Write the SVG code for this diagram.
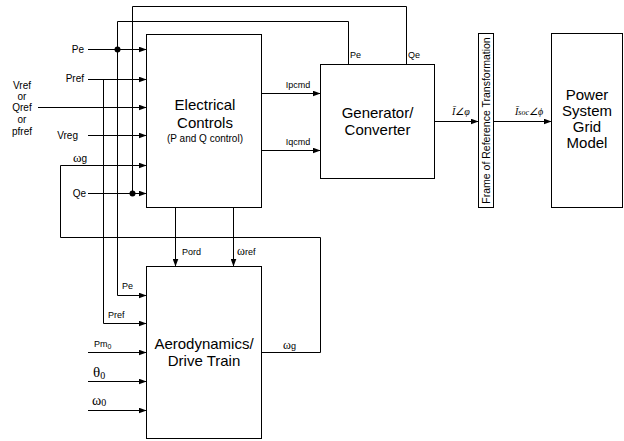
<svg xmlns="http://www.w3.org/2000/svg" width="624" height="441" viewBox="0 0 624 441">
<style>
.box{fill:#fff;stroke:#000;stroke-width:1}
.ln{fill:none;stroke:#000;stroke-width:1}
.big{font-family:"Liberation Sans",Arial,sans-serif;font-size:15px;text-anchor:middle;fill:#000}
.mid{font-family:"Liberation Sans",Arial,sans-serif;font-size:10px;text-anchor:middle;fill:#000}
.rot{font-family:"Liberation Sans",Arial,sans-serif;font-size:10.5px;text-anchor:middle;fill:#000}
.lbl{font-family:"Liberation Sans",Arial,sans-serif;font-size:10px;fill:#000}
.sm{font-family:"Liberation Sans",Arial,sans-serif;font-size:9px;fill:#000}
.ser{font-family:"Liberation Serif","Times New Roman",serif;fill:#000}
.it{font-family:"Liberation Serif","Times New Roman",serif;font-style:italic;font-size:10px;fill:#000}
</style>
<defs>
<marker id="ah" markerWidth="8" markerHeight="6" refX="8" refY="3" orient="auto" markerUnits="userSpaceOnUse">
<path d="M0,0 L8,3 L0,6 z" fill="#000"/>
</marker>
</defs>
<rect width="624" height="441" fill="#fff"/>

<g id="connectors">
<path class="ln" d="M88,49.5 H146.5" marker-end="url(#ah)"/>
<path class="ln" d="M88,79.5 H146.5" marker-end="url(#ah)"/>
<path class="ln" d="M38,107.5 H146.5" marker-end="url(#ah)"/>
<path class="ln" d="M88,135.5 H146.5" marker-end="url(#ah)"/>
<path class="ln" d="M261.5,352.5 H320.5 V237.5 H60.5 V165.5 H146.5" marker-end="url(#ah)"/>
<path class="ln" d="M88,193.5 H146.5" marker-end="url(#ah)"/>
<path class="ln" d="M406.5,64.5 V6.5 H132.5 V193.5"/>
<path class="ln" d="M348.5,64.5 V21.5 H117.5 V295.5 H146.5" marker-end="url(#ah)"/>
<path class="ln" d="M103.5,79.5 V323.5 H146.5" marker-end="url(#ah)"/>
<path class="ln" d="M88,352.5 H146.5" marker-end="url(#ah)"/>
<path class="ln" d="M88,381.5 H146.5" marker-end="url(#ah)"/>
<path class="ln" d="M88,410.5 H146.5" marker-end="url(#ah)"/>
<path class="ln" d="M261.5,93.5 H320.5" marker-end="url(#ah)"/>
<path class="ln" d="M261.5,150.5 H320.5" marker-end="url(#ah)"/>
<path class="ln" d="M434.5,121.5 H478.5" marker-end="url(#ah)"/>
<path class="ln" d="M493.5,121.5 H551.5" marker-end="url(#ah)"/>
<path class="ln" d="M175.5,207.5 V266.5" marker-end="url(#ah)"/>
<path class="ln" d="M233.5,207.5 V266.5" marker-end="url(#ah)"/>
<circle cx="117.5" cy="49.5" r="3" fill="#000"/>
<circle cx="132.5" cy="193.5" r="3" fill="#000"/>

<text class="lbl" x="84" y="53" text-anchor="end">Pe</text>
<text class="lbl" x="84" y="82" text-anchor="end">Pref</text>
<text class="lbl" x="22" y="89" text-anchor="middle">Vref</text>
<text class="lbl" x="22" y="100" text-anchor="middle">or</text>
<text class="lbl" x="22" y="111" text-anchor="middle">Qref</text>
<text class="lbl" x="22" y="123" text-anchor="middle">or</text>
<text class="lbl" x="22" y="135" text-anchor="middle">pfref</text>
<text class="lbl" x="78" y="139" text-anchor="end">Vreg</text>
<text class="lbl" x="73" y="162"><tspan class="ser" style="font-size:13px">ω</tspan>g</text>
<text class="lbl" x="86" y="197" text-anchor="end">Qe</text>
<text class="sm" x="298" y="88" text-anchor="middle">Ipcmd</text>
<text class="sm" x="298" y="145" text-anchor="middle">Iqcmd</text>
<text class="sm" x="350" y="58">Pe</text>
<text class="sm" x="408" y="58">Qe</text>
<text class="it" x="452" y="115">Ī∠φ</text>
<text class="it" x="515" y="115">Ī<tspan style="font-size:8px">soc</tspan>∠ϕ</text>
<text class="sm" x="182" y="255">Pord</text>
<text class="sm" x="237" y="255"><tspan class="ser" style="font-size:12px">ω</tspan>ref</text>
<text class="sm" x="122" y="289">Pe</text>
<text class="sm" x="108" y="318">Pref</text>
<text class="sm" x="94" y="347">Pm<tspan style="font-size:7px" dy="2">0</tspan></text>
<text class="ser" style="font-size:15px" x="93" y="377">θ<tspan style="font-size:10px" dy="2">0</tspan></text>
<text class="ser" style="font-size:14px" x="92" y="405">ω<tspan style="font-size:10px" dy="1">0</tspan></text>
<text class="sm" x="283" y="349"><tspan class="ser" style="font-size:12px">ω</tspan>g</text>
</g>

<g id="electrical-controls">
<rect class="box" x="146.5" y="34.5" width="115" height="173"/>
<text class="big" x="205" y="110">Electrical</text>
<text class="big" x="205" y="128">Controls</text>
<text class="mid" x="205" y="142">(P and Q control)</text>
</g>

<g id="generator-converter">
<rect class="box" x="320.5" y="64.5" width="114" height="114"/>
<text class="big" x="377.5" y="118">Generator/</text>
<text class="big" x="377.5" y="135">Converter</text>
</g>

<g id="frame-of-reference">
<rect class="box" x="478.5" y="33.5" width="15" height="174"/>
<text class="rot" transform="translate(490,120.5) rotate(-90)">Frame of Reference Transformation</text>
</g>

<g id="power-system">
<rect class="box" x="551.5" y="33.5" width="71" height="174"/>
<text class="big" x="587" y="100">Power</text>
<text class="big" x="587" y="116">System</text>
<text class="big" x="587" y="132">Grid</text>
<text class="big" x="587" y="147.5">Model</text>
</g>

<g id="aerodynamics">
<rect class="box" x="146.5" y="266.5" width="115" height="172"/>
<text class="big" x="204" y="349">Aerodynamics/</text>
<text class="big" x="204" y="365.5">Drive Train</text>
</g>
</svg>
